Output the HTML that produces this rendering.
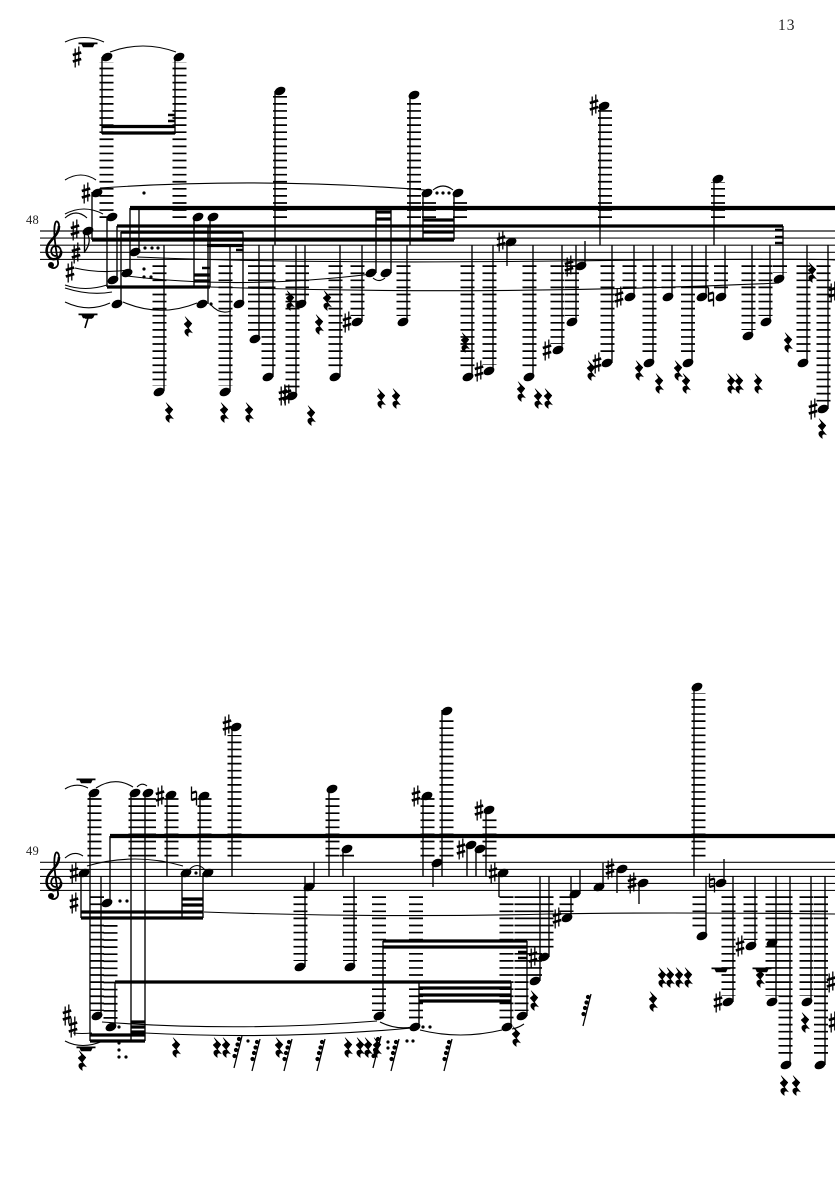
<!DOCTYPE html>
<html><head><meta charset="utf-8"><title>Score page 13</title>
<style>html,body{margin:0;padding:0;background:#fff}svg{display:block}text{font-family:"Liberation Serif",serif;fill:#222}</style></head>
<body>
<svg xmlns="http://www.w3.org/2000/svg" width="835" height="1181" viewBox="0 0 835 1181">
<defs>
<ellipse id="n" rx="5.7" ry="3.9" transform="rotate(-24)"/>
<path id="q" d="M-3-9.500L4-2.500 .5 2 4.500 7C1.500 5-1 6.500 .5 10.500-4.500 8-4.500 2.500 .5 3L-4-2 -.5-5Z" stroke="#000" stroke-width=".5"/>
<g id="s" stroke="#000" fill="none"><path d="M-1.800-8.500V10.500M1.800-10.500V8.500" stroke-width="1.300"/><path d="M-4.200-2 4.200-4.500M-4.200 4.500 4.200 2" stroke-width="2.700"/></g>
<g id="h" stroke="#000" fill="none"><path d="M-2.500-9.500V4.500M2.500-4.500V9.500" stroke-width="1.300"/><path d="M-2.500-3 2.500-4.500M-2.500 4 2.500 2.500" stroke-width="2.400"/></g>
<path id="b" d="M-9.500-2.500H9.500V-.8H6.500L5 2.200H-5L-6.500-.8H-9.500Z"/>
<g id="r"><path d="M4-16-4 16" stroke="#000" stroke-width="1.300" fill="none"/><circle cx="1" cy="-13" r="2.100"/><circle cx="-.5" cy="-7.500" r="2.100"/><circle cx="-2" cy="-2" r="2.100"/><circle cx="-3.500" cy="4" r="2.100"/></g>
<g id="c"><path d="M56 256C52 256 50 252 52 248 54 245 60 245 61 251 62 258 54 261 50 258 45 254 46 247 50 242 54 237 59 233 59 226 59 222 56 219 55 224 53 232 56 250 58 262 59 268 52 270 50 266" fill="none" stroke="#000" stroke-width="1.800"/><path d="M61 251C62 258 54 261 50 258 45 254 46 247 50 242 54 237 59 233 59 226" fill="none" stroke="#000" stroke-width="2.600"/><circle cx="51" cy="265" r="3"/></g>
<circle id="d" r="1.600"/>
</defs>

<text x="778" y="30" font-size="15.500" letter-spacing="1">13</text>
<text x="26" y="224" font-size="12.500" letter-spacing=".3">48</text>
<text x="26" y="855" font-size="12.500" letter-spacing=".3">49</text>

<!-- staves -->
<path stroke="#111" stroke-width="1.150" fill="none" d="M40 231H835M40 238.100H835M40 245.200H835M40 252.300H835M40 259.400H835M40 862.300H835M40 869.400H835M40 876.400H835M40 883.400H835M40 890.400H835"/>
<use href="#c"/><use href="#c" y="631"/>

<!-- ledger lines -->
<g fill="none" stroke="#000" stroke-width="14" stroke-dasharray="1.700 5.380">
<path d="M106.500 218V62M179.500 218V62M280 218V96M414 218V100M605 218V110M718 218V182M429 218V200M460 218V200M107 218V212"/>
<path d="M159.500 265.300V386M225.500 265.300V386M255 265.300V332M268.500 265.300V371M292.500 265.300V390M302 265.300V298M335.500 265.300V371M357.500 265.300V316M403.500 265.300V316M467.500 265.300V371M489.500 265.300V365M529.500 265.300V371M557.500 265.300V344M572 265.300V316M607.500 265.300V357M629.500 265.300V291M649.500 265.300V357M668.500 265.300V291M688 265.300V357M701.500 265.300V291M721 265.300V291M748.500 265.300V330M765.500 265.300V316M780 265.300V273M803.500 265.300V357M823.500 265.300V403"/>
<path d="M94.500 856.500V797M135.500 856.500V797M149 856.500V797M171.500 856.500V797M204.500 856.500V797M234.500 856.500V735M332.500 856.500V797M347 856.500V853M427.500 856.500V797M446.500 856.500V718M489.500 856.500V817M698.500 856.500V693"/>
<path d="M97 896.300V1011M110.500 925V1021M300.500 896.300V961M350 896.300V961M379 896.300V1011M416 896.300V1021M506.500 896.300V1021M521.500 896.300V1011M535 896.300V976M546.500 896.300V951M566.500 896.300V912M699.500 896.300V930M728.500 896.300V996M750.500 896.300V940M772.500 896.300V996M785.500 896.300V1059M806.500 896.300V996M821 896.300V1059"/>
</g>

<!-- stems -->
<path fill="none" stroke="#000" stroke-width="1.350" d="M102 57V134M175 57V134M92 192V240M84.500 231V253M107 217V287M117 226V281M121 232V304M130 208V273M139 208V252M164 245V391M194 217V287M210 217V287M208 226V304M230 245V392M243 232V304M259 245V339M273 245V377M275 91V245M296 245V396M305 245V304M340 245V377M362 245V322M376 208V273M391 208V273M407 245V322M410 95V245M423 192V240M454 192V240M472 245V377M493 245V371M507 241V266M533 245V377M562 245V350M576 245V322M585 241V266M600 104V245M612 245V363M634 245V297M653 245V363M672 245V297M692 245V363M706 245V297M714 178V245M725 245V297M752 245V336M770 245V322M783 226V279M807 245V363M828 245V409"/>
<path fill="none" stroke="#000" stroke-width="1.350" d="M90 793V1041M131 793V1041M145 793V1041M167 795V876M200 796V876M232 727V876M329 789V876M343 849V876M81 873V918M182 873V918M203 873V918M101 876V1016M115 982V1027M110 836V903M305 876V967M314 862V887M354 876V967M383 941V1016M419 982V1027M511 982V1027M527 941V1016M540 876V981M549 876V957M423 796V876M433 863V887M442 710V876M467 845V876M476 849V876M486 810V876M499 873V897M571 876V918M580 870V894M603 863V887M617 869V893M639 883V904M694 688V876M706 876V936M724 859V883M733 876V1002M755 876V946M776 876V1002M790 876V1065M811 876V1002M825 876V1065"/>

<!-- beams -->
<path fill="none" stroke="#000" stroke-width="4.200" d="M130 208H835M110 836H835"/>
<path fill="none" stroke="#000" stroke-width="3.200" d="M117 226H783M92 240H454M207 245.500H243M107 287H210M102 126.500H175M102 133H175M423 220H454M423 226H454M423 232H454M376 212H391M376 219H391M194 275H210M194 281H210M115 982H511M419 988H511M419 995H511M419 1001H511M383 941H527M383 947H527M81 912H203M81 918H203M182 899H203M182 905H203M90 1035H145M90 1041H145M131 1022H145M131 1027H145M131 1032H145"/>
<path fill="none" stroke="#000" stroke-width="2.600" d="M121 232.500H243M168 115H175M168 121H175M202 268H210M236 250H243M775 230H783M775 237H783M775 243H783M518 952H527M518 958H527"/>

<!-- slurs and ties -->
<path fill="none" stroke="#000" stroke-width="1.100" d="M65 42Q84 33 104 42M110 52Q143 40 176 52M65 180Q81 170 96 180M100 188Q260 177 425 190M65 214Q84 204 103 214M65 218Q76 208 87 218M75 268Q100 274 128 270M137 257Q300 264 560 261T835 260M127 276Q240 290 372 274M65 285Q85 292 107 285M65 288Q90 296 112 292M65 302Q88 313 110 303M123 302Q160 318 197 303M211 305Q220 315 231 311M373 278Q379 283 385 278M433 190Q443 182 453 190M210 287Q500 296 779 283"/>
<path fill="none" stroke="#000" stroke-width="1.100" d="M65 789Q76 782 88 788M96 788Q115 776 133 787M137 787Q142 782 147 786M65 858Q74 850 83 856M87 866Q135 852 183 866M188 871Q197 860 206 871M204 912Q380 918 550 914Q650 912 835 914M65 1041Q82 1050 103 1041M102 1022Q240 1032 377 1021M145 1033Q280 1040 412 1028M380 1022Q396 1030 412 1027M420 1030Q460 1040 502 1030M512 1029Q518 1028 524 1024M73 1033Q82 1034 92 1033"/>

<!-- notes: system 1 -->
<g>
<use href="#n" x="107" y="57"/><use href="#n" x="179" y="57"/><use href="#n" x="97" y="193"/><use href="#n" x="88" y="231"/><use href="#n" x="112" y="217"/><use href="#n" x="113" y="280"/><use href="#n" x="117" y="304"/><use href="#n" x="127" y="273"/><use href="#n" x="135" y="252"/><use href="#n" x="159" y="392"/><use href="#n" x="198" y="217"/><use href="#n" x="213" y="217"/><use href="#n" x="202" y="304"/><use href="#n" x="239" y="304"/><use href="#n" x="225" y="392"/><use href="#n" x="255" y="339"/><use href="#n" x="268" y="377"/><use href="#n" x="280" y="91"/><use href="#n" x="292" y="396"/><use href="#n" x="301" y="304"/><use href="#n" x="335" y="377"/><use href="#n" x="357" y="322"/><use href="#n" x="371" y="273"/><use href="#n" x="386" y="273"/><use href="#n" x="403" y="322"/><use href="#n" x="414" y="95"/><use href="#n" x="427" y="193"/><use href="#n" x="458" y="193"/><use href="#n" x="468" y="377"/><use href="#n" x="489" y="371"/><use href="#n" x="511" y="242"/><use href="#n" x="529" y="377"/><use href="#n" x="558" y="350"/><use href="#n" x="572" y="322"/><use href="#n" x="581" y="266"/><use href="#n" x="604" y="106"/><use href="#n" x="607" y="363"/><use href="#n" x="630" y="297"/><use href="#n" x="649" y="363"/><use href="#n" x="668" y="297"/><use href="#n" x="688" y="363"/><use href="#n" x="702" y="297"/><use href="#n" x="718" y="179"/><use href="#n" x="721" y="297"/><use href="#n" x="748" y="336"/><use href="#n" x="766" y="322"/><use href="#n" x="779" y="279"/><use href="#n" x="803" y="363"/><use href="#n" x="823" y="409"/>
</g>
<!-- notes: system 2 -->
<g>
<use href="#n" x="94" y="793"/><use href="#n" x="135" y="793"/><use href="#n" x="148" y="793"/><use href="#n" x="171" y="795"/><use href="#n" x="204" y="796"/><use href="#n" x="236" y="727"/><use href="#n" x="84" y="873"/><use href="#n" x="186" y="873"/><use href="#n" x="208" y="873"/><use href="#n" x="107" y="903"/><use href="#n" x="97" y="1016"/><use href="#n" x="111" y="1027"/><use href="#n" x="300" y="967"/><use href="#n" x="309" y="887"/><use href="#n" x="332" y="789"/><use href="#n" x="347" y="849"/><use href="#n" x="350" y="967"/><use href="#n" x="379" y="1016"/><use href="#n" x="415" y="1027"/><use href="#n" x="507" y="1027"/><use href="#n" x="522" y="1016"/><use href="#n" x="535" y="981"/><use href="#n" x="544" y="957"/><use href="#n" x="427" y="796"/><use href="#n" x="437" y="863"/><use href="#n" x="447" y="711"/><use href="#n" x="471" y="845"/><use href="#n" x="480" y="849"/><use href="#n" x="489" y="810"/><use href="#n" x="503" y="873"/><use href="#n" x="567" y="918"/><use href="#n" x="575" y="894"/><use href="#n" x="599" y="887"/><use href="#n" x="622" y="869"/><use href="#n" x="643" y="883"/><use href="#n" x="697" y="687"/><use href="#n" x="702" y="936"/><use href="#n" x="721" y="883"/><use href="#n" x="728" y="1002"/><use href="#n" x="751" y="946"/><use href="#n" x="772" y="943"/><use href="#n" x="772" y="1002"/><use href="#n" x="786" y="1065"/><use href="#n" x="807" y="1002"/><use href="#n" x="820" y="1065"/>
</g>

<!-- accidentals -->
<g>
<use href="#s" x="77" y="57"/><use href="#s" x="86" y="193"/><use href="#s" x="75" y="230"/><use href="#s" x="76" y="253"/><use href="#s" x="70" y="272"/><use href="#s" x="283" y="395"/><use href="#s" x="287" y="395"/><use href="#s" x="347" y="322"/><use href="#s" x="479" y="371"/><use href="#s" x="501" y="241"/><use href="#s" x="547" y="350"/><use href="#s" x="569" y="266"/><use href="#s" x="594" y="105"/><use href="#s" x="597" y="363"/><use href="#s" x="619" y="297"/><use href="#s" x="813" y="409"/><use href="#s" x="833" y="292"/><use href="#h" x="711" y="297"/>
<use href="#s" x="160" y="796"/><use href="#s" x="74" y="873"/><use href="#s" x="74" y="903"/><use href="#s" x="67" y="1015"/><use href="#s" x="73" y="1027"/><use href="#s" x="227" y="725"/><use href="#s" x="416" y="796"/><use href="#s" x="461" y="849"/><use href="#s" x="479" y="810"/><use href="#s" x="493" y="873"/><use href="#s" x="533" y="957"/><use href="#s" x="557" y="918"/><use href="#s" x="610" y="869"/><use href="#s" x="632" y="883"/><use href="#s" x="718" y="1002"/><use href="#s" x="740" y="946"/><use href="#s" x="831" y="982"/><use href="#s" x="833" y="1022"/><use href="#h" x="194" y="796"/><use href="#h" x="712" y="883"/>
</g>

<!-- rests -->
<g>
<use href="#q" x="169" y="412"/><use href="#q" x="188" y="326"/><use href="#q" x="224" y="412"/><use href="#q" x="249" y="412"/><use href="#q" x="290" y="300"/><use href="#q" x="311" y="415"/><use href="#q" x="327" y="300"/><use href="#q" x="319" y="324"/><use href="#q" x="381" y="398"/><use href="#q" x="396" y="398"/><use href="#q" x="465" y="342"/><use href="#q" x="521" y="391"/><use href="#q" x="538" y="398"/><use href="#q" x="548" y="398"/><use href="#q" x="591" y="370"/><use href="#q" x="639" y="370"/><use href="#q" x="659" y="383"/><use href="#q" x="678" y="370"/><use href="#q" x="686" y="383"/><use href="#q" x="731" y="383"/><use href="#q" x="739" y="383"/><use href="#q" x="758" y="383"/><use href="#q" x="788" y="342"/><use href="#q" x="812" y="272"/><use href="#q" x="822" y="428"/>
<use href="#q" x="82" y="1060"/><use href="#q" x="176" y="1047"/><use href="#q" x="217" y="1047"/><use href="#q" x="226" y="1047"/><use href="#q" x="279" y="1047"/><use href="#q" x="348" y="1047"/><use href="#q" x="360" y="1047"/><use href="#q" x="368" y="1047"/><use href="#q" x="377" y="1047"/><use href="#q" x="534" y="1000"/><use href="#q" x="516" y="1036"/><use href="#q" x="662" y="977"/><use href="#q" x="670" y="977"/><use href="#q" x="679" y="977"/><use href="#q" x="688" y="977"/><use href="#q" x="653" y="1001"/><use href="#q" x="760" y="977"/><use href="#q" x="784" y="1085"/><use href="#q" x="796" y="1085"/><use href="#q" x="805" y="1022"/>
<use href="#r" x="238" y="1052"/><use href="#r" x="256" y="1055"/><use href="#r" x="288" y="1055"/><use href="#r" x="321" y="1055"/><use href="#r" x="377" y="1052"/><use href="#r" x="395" y="1055"/><use href="#r" x="448" y="1055"/><use href="#r" x="587" y="1010"/>
<use href="#b" x="88" y="45"/><use href="#b" x="88" y="316"/><use href="#b" x="86" y="781"/><use href="#b" x="86" y="1049"/><use href="#b" x="721" y="970"/><use href="#b" x="762" y="970"/>
<path d="M88 318 85 328M85 318H92" fill="none" stroke="#000" stroke-width="1.600"/>
</g>

<!-- dots -->
<g>
<use href="#d" x="144" y="193"/><use href="#d" x="145" y="248"/><use href="#d" x="152" y="248"/><use href="#d" x="158" y="248"/><use href="#d" x="144" y="269"/><use href="#d" x="144" y="277"/><use href="#d" x="151" y="277"/><use href="#d" x="211" y="304"/><use href="#d" x="437" y="193"/><use href="#d" x="443" y="193"/><use href="#d" x="449" y="193"/>
<use href="#d" x="120" y="901"/><use href="#d" x="127" y="901"/><use href="#d" x="196" y="873"/><use href="#d" x="119" y="1027"/><use href="#d" x="119" y="1043"/><use href="#d" x="119" y="1050"/><use href="#d" x="119" y="1057"/><use href="#d" x="126" y="1057"/><use href="#d" x="248" y="1041"/><use href="#d" x="388" y="1042"/><use href="#d" x="388" y="1048"/><use href="#d" x="407" y="1041"/><use href="#d" x="413" y="1041"/><use href="#d" x="423" y="1027"/><use href="#d" x="430" y="1027"/>
</g>
<path d="M85 231C92 238 89 246 84.500 252" fill="none" stroke="#000" stroke-width="1.200"/>
</svg>
</body></html>
